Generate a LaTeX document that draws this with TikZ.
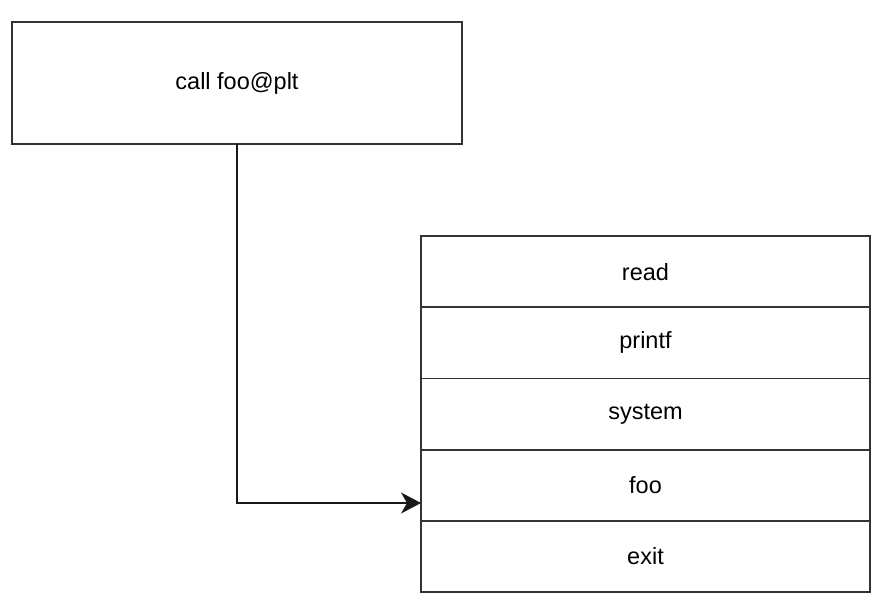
\documentclass[tikz,border=0pt]{standalone}
\usepackage{fontspec}
\setmainfont{Liberation Sans}
\usetikzlibrary{calc,arrows.meta}
\begin{document}
\begin{tikzpicture}[x=1pt,y=-1pt,inner sep=0pt,outer sep=0pt,
linecol/.style={draw=black!80,line width=1.8pt},
callbox/.style={linecol,rectangle,minimum width=450pt,minimum height=122pt,font=\fontsize{23.5}{28}\selectfont},
pltrow/.style={linecol,rectangle,minimum width=449pt,minimum height=71.2pt,font=\fontsize{23.5}{28}\selectfont}]
\useasboundingbox (0,0) rectangle (878,614);
\draw (237,83) node[callbox] (call) {call foo@plt};
\draw (645.5,271.6) node[pltrow] (read) {read};
\draw (645.5,342.8) node[pltrow] (printf) {printf};
\draw (645.5,414) node[pltrow] (system) {system};
\draw (645.5,485.2) node[pltrow] (foo) {foo};
\draw (645.5,556.4) node[pltrow] (exit) {exit};
\coordinate (hit) at ($(foo.south west)!0.25!(foo.north west)$);
\draw[draw=black!90,line width=1.5pt,-{Stealth[length=20pt,width=21pt,inset=6pt]}] (call.south) |- (hit);
\end{tikzpicture}
\end{document}
